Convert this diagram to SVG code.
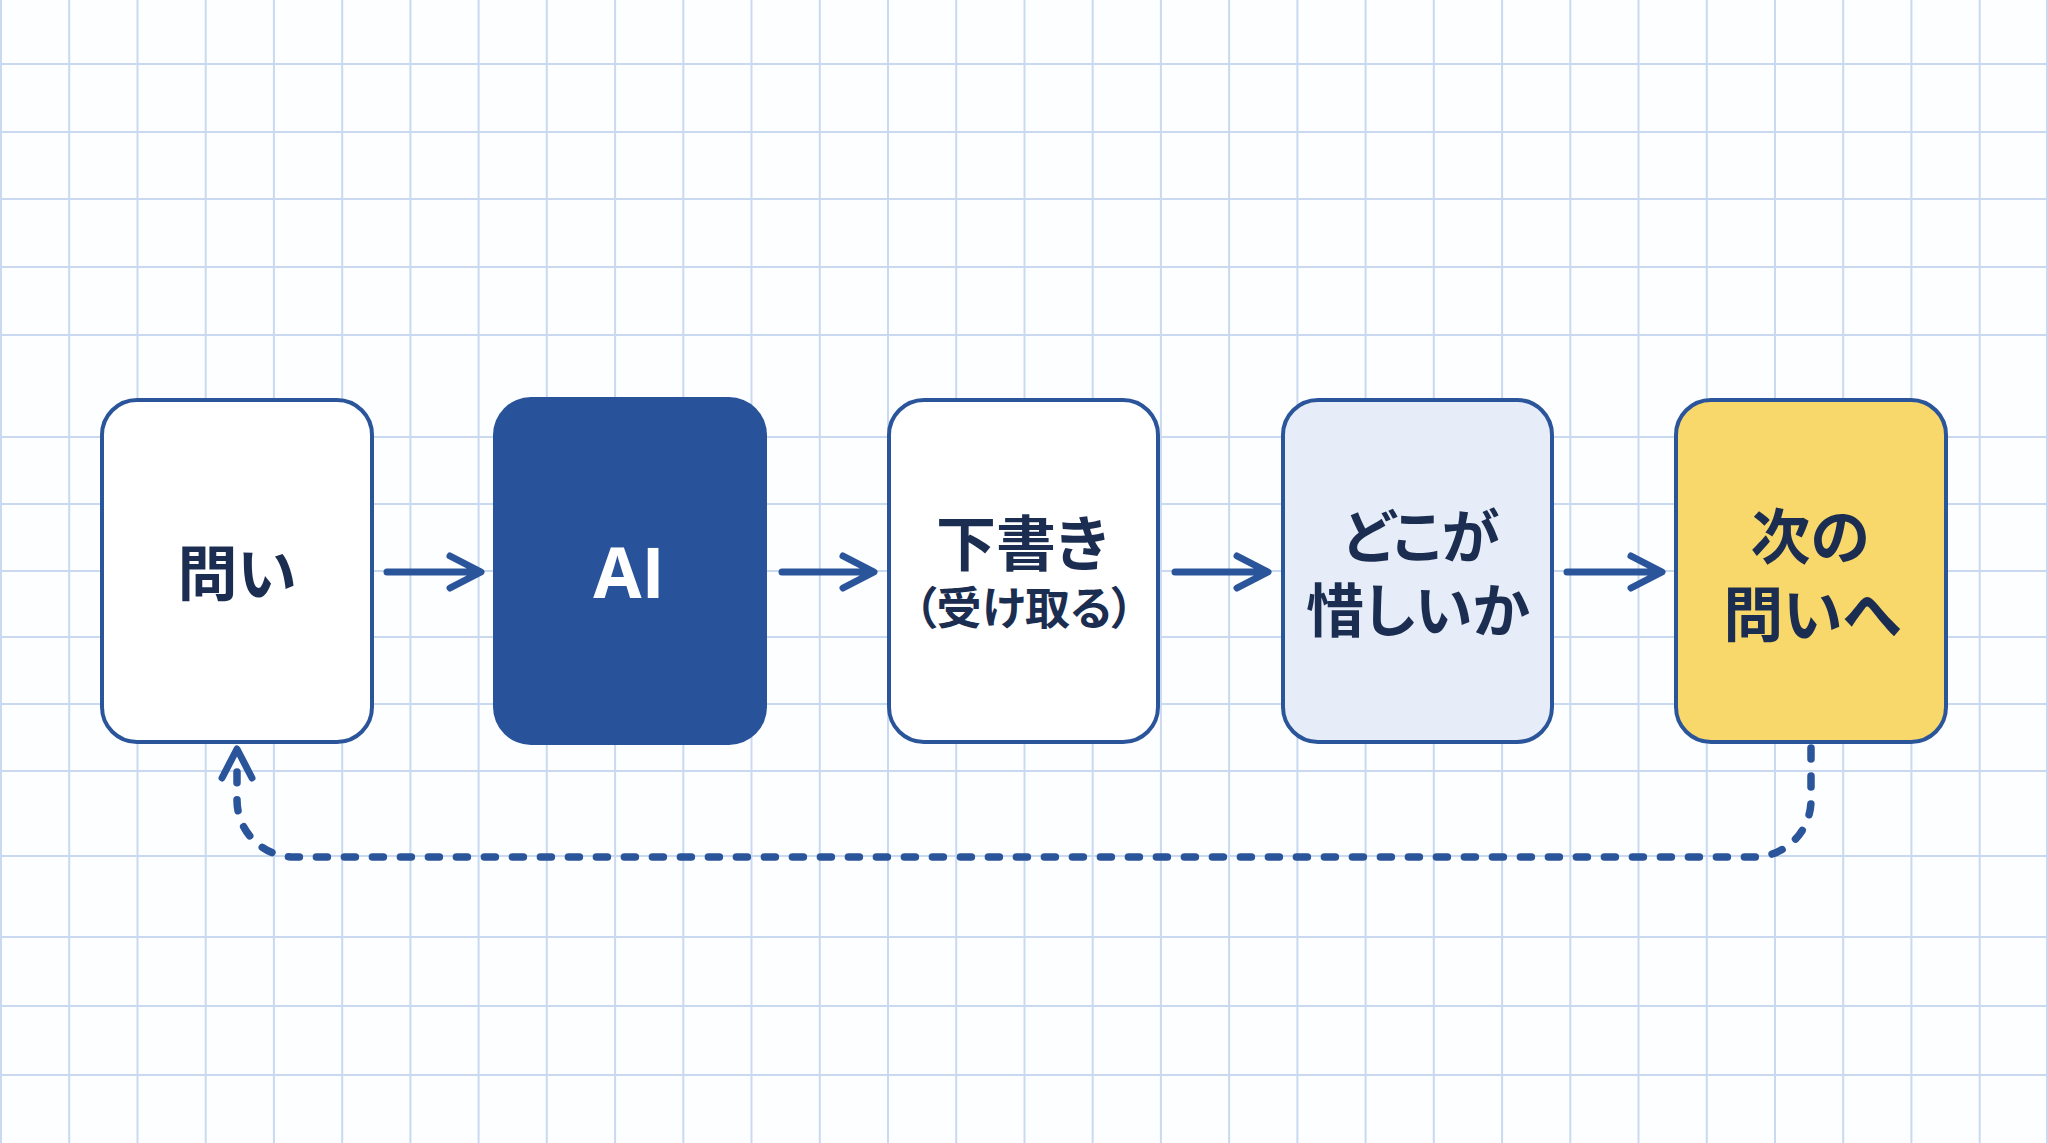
<svg xmlns="http://www.w3.org/2000/svg" width="2048" height="1143" viewBox="0 0 2048 1143">
<defs>
<style>
.grid line{stroke:#c9d9f0;stroke-width:2}
.box{stroke:#2b559b;stroke-width:4}
.lbl{font-family:"Noto Sans CJK JP","Noto Sans",sans-serif;font-weight:700;fill:#1b2d50;text-anchor:middle;dominant-baseline:central;font-feature-settings:"palt"}
.arrow{fill:none;stroke:#2b559b;stroke-width:7;stroke-linecap:round;stroke-linejoin:round}
.dash{fill:none;stroke:#2b559b;stroke-width:7.5;stroke-linecap:round;stroke-dasharray:11 17}
</style>
</defs>
<rect width="2048" height="1143" fill="#fdfeff"/>
<g class="grid">
<line x1="1" y1="0" x2="1" y2="1143"/>
<line x1="69.2" y1="0" x2="69.2" y2="1143"/>
<line x1="137.5" y1="0" x2="137.5" y2="1143"/>
<line x1="205.7" y1="0" x2="205.7" y2="1143"/>
<line x1="273.9" y1="0" x2="273.9" y2="1143"/>
<line x1="342.2" y1="0" x2="342.2" y2="1143"/>
<line x1="410.4" y1="0" x2="410.4" y2="1143"/>
<line x1="478.6" y1="0" x2="478.6" y2="1143"/>
<line x1="546.8" y1="0" x2="546.8" y2="1143"/>
<line x1="615.1" y1="0" x2="615.1" y2="1143"/>
<line x1="683.3" y1="0" x2="683.3" y2="1143"/>
<line x1="751.5" y1="0" x2="751.5" y2="1143"/>
<line x1="819.8" y1="0" x2="819.8" y2="1143"/>
<line x1="888" y1="0" x2="888" y2="1143"/>
<line x1="956.2" y1="0" x2="956.2" y2="1143"/>
<line x1="1024.5" y1="0" x2="1024.5" y2="1143"/>
<line x1="1092.7" y1="0" x2="1092.7" y2="1143"/>
<line x1="1160.9" y1="0" x2="1160.9" y2="1143"/>
<line x1="1229.1" y1="0" x2="1229.1" y2="1143"/>
<line x1="1297.4" y1="0" x2="1297.4" y2="1143"/>
<line x1="1365.6" y1="0" x2="1365.6" y2="1143"/>
<line x1="1433.8" y1="0" x2="1433.8" y2="1143"/>
<line x1="1502.1" y1="0" x2="1502.1" y2="1143"/>
<line x1="1570.3" y1="0" x2="1570.3" y2="1143"/>
<line x1="1638.5" y1="0" x2="1638.5" y2="1143"/>
<line x1="1706.8" y1="0" x2="1706.8" y2="1143"/>
<line x1="1775" y1="0" x2="1775" y2="1143"/>
<line x1="1843.2" y1="0" x2="1843.2" y2="1143"/>
<line x1="1911.4" y1="0" x2="1911.4" y2="1143"/>
<line x1="1979.7" y1="0" x2="1979.7" y2="1143"/>
<line x1="2047" y1="0" x2="2047" y2="1143"/>
<line x1="0" y1="64" x2="2048" y2="64"/>
<line x1="0" y1="132" x2="2048" y2="132"/>
<line x1="0" y1="199" x2="2048" y2="199"/>
<line x1="0" y1="267" x2="2048" y2="267"/>
<line x1="0" y1="335" x2="2048" y2="335"/>
<line x1="0" y1="437" x2="2048" y2="437"/>
<line x1="0" y1="504" x2="2048" y2="504"/>
<line x1="0" y1="571" x2="2048" y2="571"/>
<line x1="0" y1="637" x2="2048" y2="637"/>
<line x1="0" y1="704" x2="2048" y2="704"/>
<line x1="0" y1="771" x2="2048" y2="771"/>
<line x1="0" y1="856" x2="2048" y2="856"/>
<line x1="0" y1="937" x2="2048" y2="937"/>
<line x1="0" y1="1006" x2="2048" y2="1006"/>
<line x1="0" y1="1075" x2="2048" y2="1075"/>
</g>
<g id="connectors">
<path class="arrow" d="M387 572H480M450 556L481 572L450 588"/>
<path class="arrow" d="M782 572H872M843 556L874 572L843 588"/>
<path class="arrow" d="M1175 572H1266M1237 556L1268 572L1237 588"/>
<path class="arrow" d="M1567 572H1660M1631 556L1662 572L1631 588"/>
<path class="dash" d="M1811 748V800A57 57 0 0 1 1754 857H294A57 57 0 0 1 237 800V772"/>
<path class="arrow" d="M222 778L237 749L252 778"/>
</g>
<g id="node-toi">
<rect class="box" x="102" y="400" width="270" height="342" rx="35" fill="#ffffff"/>
<text class="lbl" x="237" y="569" font-size="60">問い</text>
</g>
<g id="node-ai">
<rect x="493" y="397" width="274" height="348" rx="38" fill="#28539a"/>
<text x="629" y="571" font-family="'Open Sans','Liberation Sans',sans-serif" font-weight="700" font-size="70" fill="#ffffff" text-anchor="middle" dominant-baseline="central">AI</text>
</g>
<g id="node-draft">
<rect class="box" x="889" y="400" width="269" height="342" rx="35" fill="#ffffff"/>
<text class="lbl" font-size="60"><tspan x="1022" y="539">下書き</tspan><tspan x="1024" y="605" font-size="45">（受け取る）</tspan></text>
</g>
<g id="node-where">
<rect class="box" x="1283" y="400" width="269" height="342" rx="35" fill="#e6edf8"/>
<text class="lbl" font-size="58"><tspan x="1421" y="533">どこが</tspan><tspan x="1418" y="607">惜しいか</tspan></text>
</g>
<g id="node-next">
<rect class="box" x="1676" y="400" width="270" height="342" rx="35" fill="#f9d86b"/>
<text class="lbl" font-size="60"><tspan x="1810" y="532">次の</tspan><tspan x="1812" y="610">問いへ</tspan></text>
</g>
</svg>
